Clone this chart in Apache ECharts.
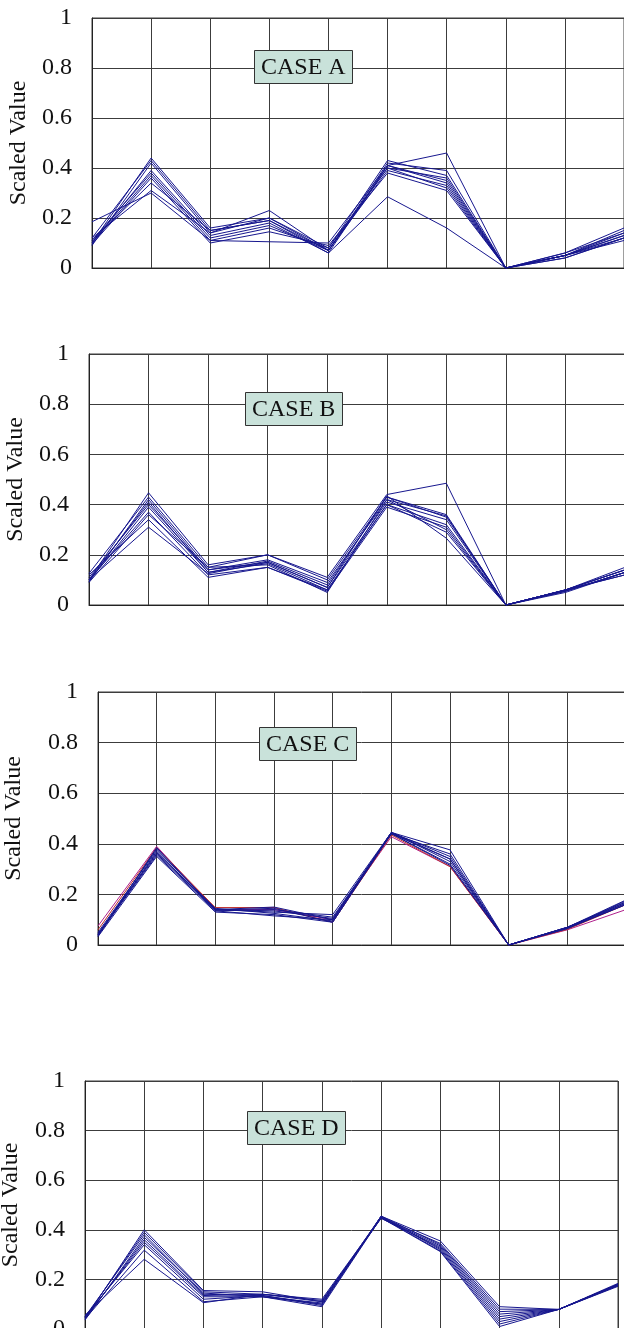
<!DOCTYPE html>
<html>
<head>
<meta charset="utf-8">
<script src="https://cdn.jsdelivr.net/npm/echarts@6/dist/echarts.min.js"></script>
<style>
html,body{margin:0;padding:0;background:#fff;}
#chart{width:624px;height:1328px;}
</style>
</head>
<body>
<div id="chart"></div>
<script>
// Categories (unlabelled variables along x)
const categories = ['V1','V2','V3','V4','V5','V6','V7','V8','V9','V10'];
const yTicks = [0, 0.2, 0.4, 0.6, 0.8, 1];
const caseLabels = ['CASE A','CASE B','CASE C','CASE D'];

const caseA = [
  [0.10, 0.44, 0.16, 0.20, 0.08, 0.43, 0.37, 0, 0.05, 0.15],
  [0.12, 0.43, 0.15, 0.19, 0.07, 0.42, 0.39, 0, 0.06, 0.16],
  [0.185, 0.30, 0.11, 0.105, 0.10, 0.41, 0.46, 0, 0.05, 0.14],
  [0.09, 0.42, 0.14, 0.23, 0.07, 0.40, 0.36, 0, 0.05, 0.13],
  [0.10, 0.39, 0.13, 0.18, 0.06, 0.41, 0.35, 0, 0.05, 0.13],
  [0.11, 0.38, 0.12, 0.17, 0.07, 0.39, 0.33, 0, 0.04, 0.12],
  [0.10, 0.37, 0.11, 0.16, 0.08, 0.40, 0.32, 0, 0.05, 0.12],
  [0.095, 0.36, 0.10, 0.145, 0.09, 0.38, 0.31, 0, 0.05, 0.11],
  [0.11, 0.34, 0.15, 0.19, 0.06, 0.285, 0.16, 0, 0.04, 0.12],
  [0.12, 0.31, 0.14, 0.20, 0.07, 0.41, 0.34, 0, 0.06, 0.14]
];
const caseB = [
  [0.10, 0.447, 0.16, 0.20, 0.11, 0.44, 0.485, 0, 0.06, 0.15],
  [0.126, 0.43, 0.15, 0.20, 0.10, 0.43, 0.36, 0, 0.06, 0.14],
  [0.093, 0.42, 0.14, 0.18, 0.09, 0.42, 0.355, 0, 0.055, 0.13],
  [0.10, 0.41, 0.13, 0.175, 0.08, 0.43, 0.35, 0, 0.06, 0.14],
  [0.11, 0.40, 0.14, 0.17, 0.07, 0.41, 0.34, 0, 0.055, 0.13],
  [0.095, 0.39, 0.13, 0.165, 0.06, 0.40, 0.32, 0, 0.06, 0.12],
  [0.10, 0.37, 0.12, 0.15, 0.055, 0.39, 0.31, 0, 0.05, 0.13],
  [0.09, 0.36, 0.15, 0.16, 0.05, 0.42, 0.30, 0, 0.06, 0.12],
  [0.12, 0.34, 0.11, 0.15, 0.06, 0.40, 0.29, 0, 0.055, 0.13],
  [0.10, 0.31, 0.125, 0.17, 0.07, 0.435, 0.266, 0, 0.06, 0.14]
];
const caseC = [
  [0.035, 0.385, 0.14, 0.15, 0.10, 0.445, 0.376, 0, 0.07, 0.17],
  [0.04, 0.37, 0.135, 0.14, 0.11, 0.44, 0.36, 0, 0.068, 0.175],
  [0.045, 0.36, 0.14, 0.13, 0.12, 0.445, 0.35, 0, 0.07, 0.165],
  [0.033, 0.35, 0.13, 0.12, 0.09, 0.44, 0.34, 0, 0.065, 0.16],
  [0.05, 0.375, 0.145, 0.125, 0.095, 0.445, 0.33, 0, 0.07, 0.17],
  [0.04, 0.355, 0.135, 0.115, 0.10, 0.44, 0.32, 0, 0.068, 0.16],
  [0.038, 0.365, 0.14, 0.135, 0.105, 0.445, 0.34, 0, 0.07, 0.178],
  [0.042, 0.38, 0.138, 0.145, 0.09, 0.44, 0.315, 0, 0.065, 0.165]
];
const caseCRed = [0.06, 0.385, 0.148, 0.148, 0.09, 0.435, 0.31, 0, 0.062, 0.16];
const caseCMagenta = [0.075, 0.39, 0.14, 0.14, 0.10, 0.428, 0.31, 0, 0.06, 0.14];
const caseD = [
  [0.04, 0.40, 0.155, 0.15, 0.11, 0.455, 0.355, 0.09, 0.079, 0.18],
  [0.045, 0.39, 0.15, 0.14, 0.12, 0.45, 0.345, 0.08, 0.079, 0.175],
  [0.05, 0.38, 0.14, 0.135, 0.10, 0.455, 0.34, 0.07, 0.079, 0.18],
  [0.036, 0.37, 0.145, 0.13, 0.09, 0.45, 0.335, 0.06, 0.079, 0.184],
  [0.04, 0.36, 0.135, 0.14, 0.115, 0.446, 0.33, 0.05, 0.079, 0.178],
  [0.045, 0.35, 0.13, 0.13, 0.105, 0.45, 0.325, 0.04, 0.079, 0.172],
  [0.05, 0.34, 0.12, 0.135, 0.095, 0.455, 0.32, 0.03, 0.079, 0.18],
  [0.04, 0.318, 0.11, 0.13, 0.10, 0.45, 0.315, 0.02, 0.079, 0.175],
  [0.056, 0.281, 0.106, 0.14, 0.11, 0.448, 0.312, 0.01, 0.079, 0.18]
];

const NAVY = '#17178e';
const GRIDC = '#3c3c3c';
const FONT = '"Liberation Serif", "Times New Roman", serif';

const panels = [
  {left: 92, top: 18, width: 532, height: 250, nameGap: 60, box: {left: 254, top: 50}},
  {left: 89, top: 354, width: 536, height: 251, nameGap: 60, box: {left: 245, top: 392}},
  {left: 98, top: 692, width: 528, height: 253, nameGap: 72, box: {left: 259, top: 727}},
  {left: 85, top: 1081, width: 533, height: 248, nameGap: 62, box: {left: 247, top: 1111}}
];

const grid = [], xAxis = [], yAxis = [], title = [], series = [];
panels.forEach((p, i) => {
  grid.push({left: p.left, top: p.top, width: p.width, height: p.height,
    outerBoundsMode: 'none', containLabel: false,
    show: true, borderColor: GRIDC, borderWidth: 1, backgroundColor: 'transparent'});
  xAxis.push({type: 'category', gridIndex: i, data: categories, boundaryGap: false,
    axisLine: {show: true, lineStyle: {color: '#222', width: 1}},
    axisTick: {show: false}, axisLabel: {show: false},
    splitLine: {show: true, lineStyle: {color: GRIDC, width: 1}}});
  yAxis.push({type: 'value', gridIndex: i, min: 0, max: 1, interval: 0.2,
    name: 'Scaled Value', nameLocation: 'middle', nameGap: p.nameGap, nameRotate: 90,
    nameTextStyle: {fontFamily: FONT, fontSize: 24, color: '#111'},
    axisLine: {show: true, lineStyle: {color: '#222', width: 1}},
    axisTick: {show: false},
    axisLabel: {fontFamily: FONT, fontSize: 24, color: '#111', margin: 20,
      formatter: v => String(yTicks.find(t => Math.abs(t - v) < 1e-9) ?? v)},
    splitLine: {show: true, lineStyle: {color: GRIDC, width: 1}}});
  title.push({text: caseLabels[i], left: p.box.left, top: p.box.top,
    backgroundColor: '#c9e2da', borderColor: '#333', borderWidth: 1,
    padding: [5, 7, 3, 7],
    textStyle: {fontFamily: FONT, fontSize: 24, fontWeight: 'normal', color: '#111', lineHeight: 26}});
});

function addLines(arr, gi, color) {
  arr.forEach(d => series.push({type: 'line', xAxisIndex: gi, yAxisIndex: gi, data: d,
    symbol: 'none', lineStyle: {color: color, width: 1}, itemStyle: {color: color}, z: 3}));
}
addLines(caseA, 0, NAVY);
addLines(caseB, 1, NAVY);
addLines([caseCMagenta], 2, '#b0208c');
addLines([caseCRed], 2, '#c0302c');
addLines(caseC, 2, NAVY);
addLines(caseD, 3, NAVY);

const chart = echarts.init(document.getElementById('chart'), null, {renderer: 'canvas'});
chart.setOption({animation: false, backgroundColor: '#fff', grid, xAxis, yAxis, title, series});
</script>
</body>
</html>
